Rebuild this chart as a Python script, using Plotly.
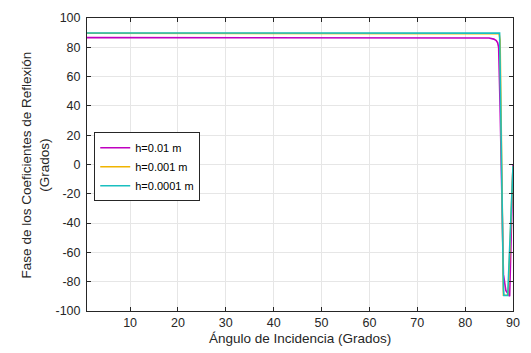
import plotly.graph_objects as go

# Angle of incidence (degrees) and reflection-coefficient phase (degrees)
ang_h1 = [1, 10, 20, 30, 40, 50, 60, 70, 80, 84, 85, 86, 86.5, 86.8, 87.0, 87.3, 88.0, 88.5, 89.0, 89.3, 90.0]
fase_h1 = [86.6, 86.6, 86.6, 86.6, 86.6, 86.7, 86.7, 86.7, 86.7, 86.6, 86.3, 85.6, 84.6, 83.0, 80.0, 40.0, -75.0, -86.0, -88.5, -90.0, 0.0]

ang_h2 = [1, 10, 20, 30, 40, 50, 60, 70, 80, 86.5, 87.1, 87.3, 88.0, 88.9, 89.0, 90.0]
fase_h2 = [89.6, 89.6, 89.6, 89.6, 89.6, 89.6, 89.6, 89.6, 89.6, 89.5, 89.2, 85.0, -89.3, -89.3, -88.0, -1.0]

ang_h3 = [1, 10, 20, 30, 40, 50, 60, 70, 80, 86.5, 87.2, 88.0, 88.1, 88.9, 90.0]
fase_h3 = [89.8, 89.8, 89.8, 89.8, 89.8, 89.8, 89.8, 89.8, 89.8, 89.8, 89.7, -85.0, -89.4, -89.4, -1.0]

nombres = ["h=0.01 m", "h=0.001 m", "h=0.0001 m"]
colores = ["#C000C0", "#F0B400", "#1ABFC0"]

xticks = [10, 20, 30, 40, 50, 60, 70, 80, 90]
yticks = [-100, -80, -60, -40, -20, 0, 20, 40, 60, 80, 100]
yticktext = ["-100", "-80", "-60", "-40", "-20", "0", "20", "40", "60", "80", "100"]

fig = go.Figure()
for xs, ys, nm, c in zip([ang_h1, ang_h2, ang_h3], [fase_h1, fase_h2, fase_h3], nombres, colores):
    fig.add_trace(go.Scatter(x=xs, y=ys, mode="lines", name=nm,
                             line=dict(color=c, width=1.6)))

fam = "Liberation Sans, Arial, sans-serif"
fuente = dict(family=fam, size=12.5, color="#262626")

eje = dict(showline=True, linecolor="#262626", linewidth=1, mirror="ticks",
           ticks="inside", ticklen=4, tickcolor="#262626", tickwidth=1,
           showgrid=True, gridcolor="#E6E6E6", gridwidth=1, zeroline=False,
           tickfont=fuente)

fig.update_layout(
    width=531, height=353,
    margin=dict(l=87, r=12, t=11, b=42),
    paper_bgcolor="white", plot_bgcolor="white",
    font=fuente,
    xaxis=dict(range=[1, 90], tickvals=xticks, **eje),
    yaxis=dict(range=[-100, 100], tickvals=yticks, ticktext=yticktext,
               ticklabelstandoff=3, **eje),
    showlegend=True,
    legend=dict(x=0.017, y=0.61, xanchor="left", yanchor="top",
                bgcolor="white", bordercolor="#262626", borderwidth=1,
                font=dict(family=fam, size=11, color="#000000"),
                itemwidth=30, tracegroupgap=0),
    annotations=[
        dict(text="Ángulo de Incidencia (Grados)", xref="paper", yref="paper",
             x=0.5, y=-0.093, xanchor="center", yanchor="middle",
             showarrow=False, font=dict(family=fam, size=13.5, color="#262626")),
        dict(text="Fase de los Coeficientes de Reflexión<br>(Grados)", xref="paper", yref="paper",
             x=-0.12, y=0.5, xanchor="center", yanchor="middle", textangle=-90,
             showarrow=False, font=dict(family=fam, size=13.5, color="#262626")),
    ],
)

fig.write_html("out.html")
